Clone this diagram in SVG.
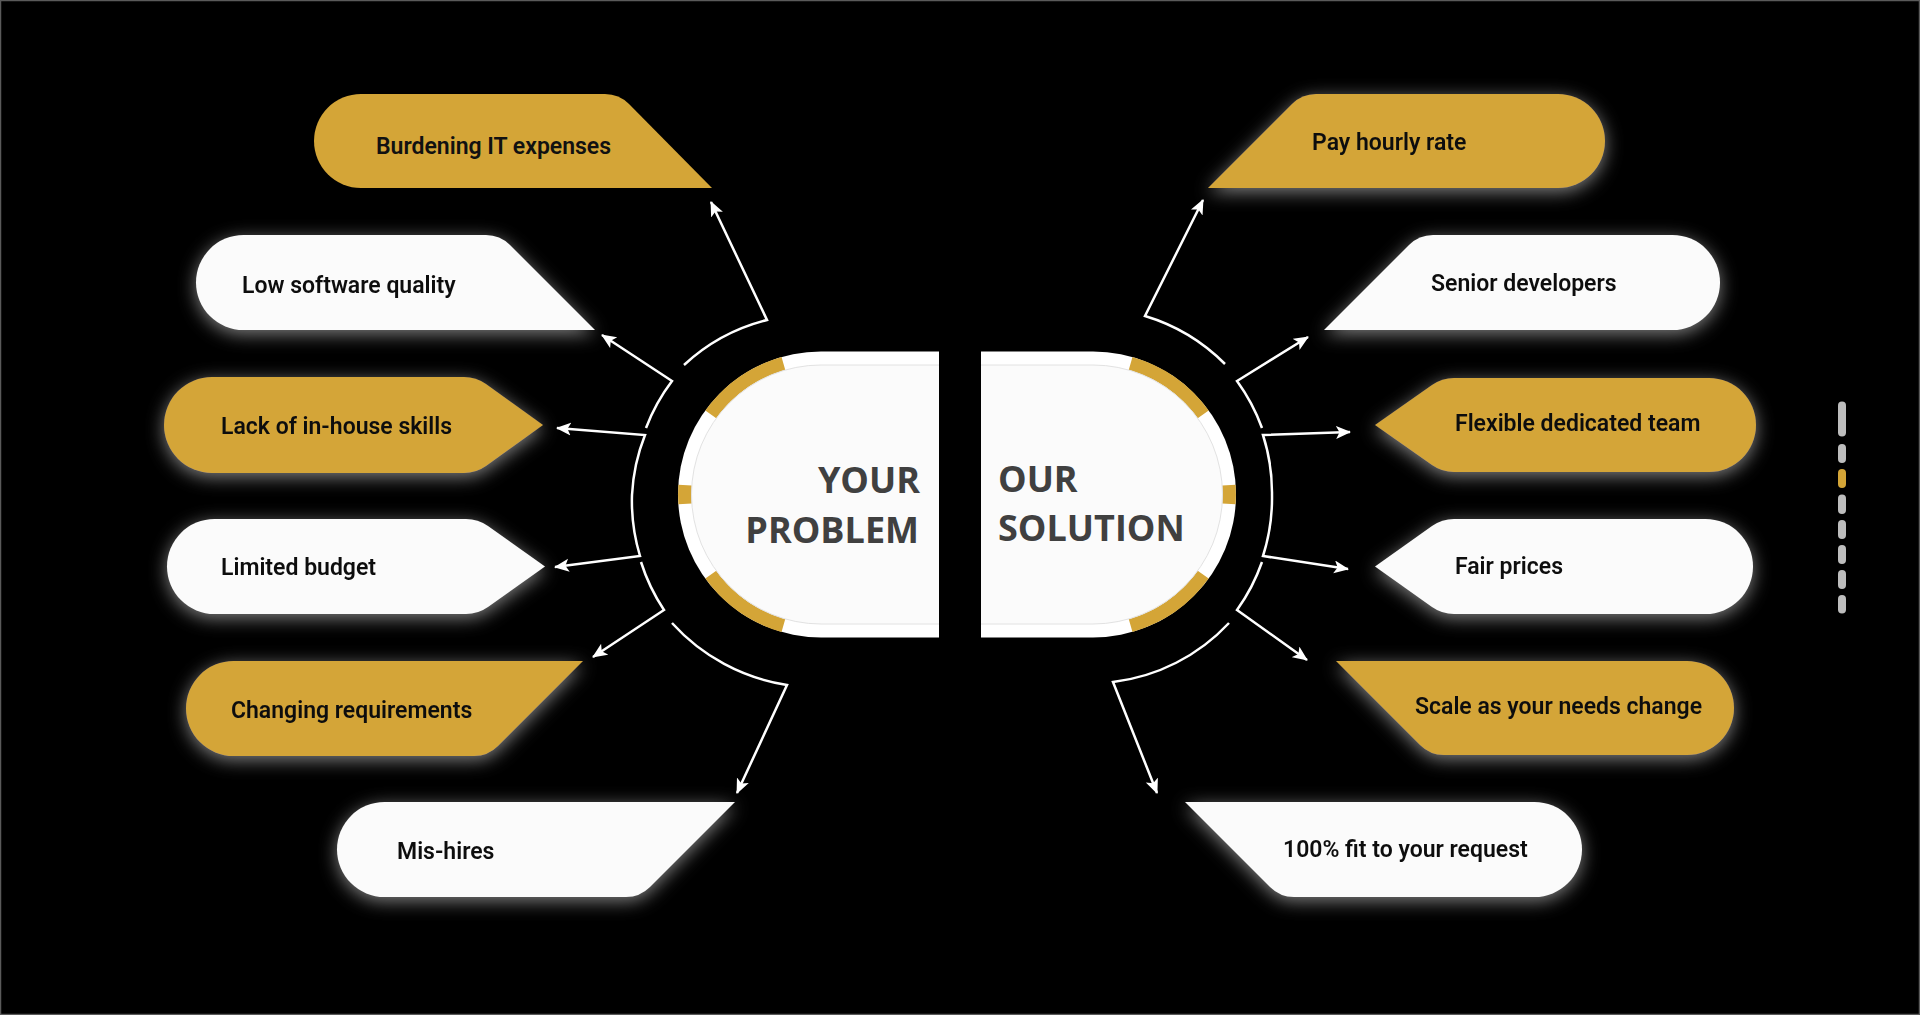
<svg xmlns="http://www.w3.org/2000/svg" width="1920" height="1015" viewBox="0 0 1920 1015">
  <defs>
    <style>
      .gold { fill: #d4a537; }
      .pale { fill: #fbfbfb; }
      .lbl { font-family: Roboto, "Liberation Sans", sans-serif; font-weight: 600; font-size: 23px; fill: #111111; }
      .big { font-family: "Open Sans", "Liberation Sans", sans-serif; font-weight: 700; font-size: 36px; fill: #404040; }
      .conn { fill: none; stroke: #ffffff; stroke-width: 2.5; marker-end: url(#arrow); }
      .band { fill: none; stroke: #d4a537; stroke-width: 13.5; }
      .dot { fill: #bdbdbd; }
    </style>
    <marker id="arrow" markerUnits="userSpaceOnUse" markerWidth="16" markerHeight="14" refX="14" refY="6.5" orient="auto">
      <path d="M0,0 L15,6.5 L0,13 L3.5,6.5 Z" fill="#ffffff"/>
    </marker>
    <filter id="glow" x="-20%" y="-50%" width="140%" height="200%">
      <feGaussianBlur in="SourceAlpha" stdDeviation="9"/>
      <feOffset dy="4" result="blur"/>
      <feFlood flood-color="#ffffff" flood-opacity="0.5"/>
      <feComposite in2="blur" operator="in"/>
      <feMerge>
        <feMergeNode/>
        <feMergeNode in="SourceGraphic"/>
      </feMerge>
    </filter>
  </defs>

  <!-- backdrop and frame -->
  <rect x="0" y="0" width="1920" height="1015" fill="#000000"/>
  <rect x="0.5" y="0.5" width="1919" height="1014" fill="none" stroke="#5a5a5a" stroke-width="1.5"/>

  <!-- centre pill, left half -->
  <g id="your-problem">
    <path d="M939 351.5 H821 A143 143 0 0 0 821 637.5 H939 Z" fill="#ffffff"/>
    <path class="band" d="M710.8 414.4 A136.25 136.25 0 0 1 783.4 363.5"/>
    <path class="band" d="M685.1 503.9 A136.25 136.25 0 0 1 685.1 485.1"/>
    <path class="band" d="M783.4 625.5 A136.25 136.25 0 0 1 710.8 574.6"/>
    <path class="pale" d="M939 365 H821 A129.5 129.5 0 0 0 821 624 H939 Z"/>
    <path d="M939 365 H821 A129.5 129.5 0 0 0 821 624 H939" fill="none" stroke="#e2e2e2" stroke-width="1"/>
    <text class="big" x="920" y="493" text-anchor="end">YOUR</text>
    <text class="big" x="919" y="543" text-anchor="end">PROBLEM</text>
  </g>

  <!-- centre pill, right half -->
  <g id="our-solution">
    <path d="M981 351.5 H1093 A143 143 0 0 1 1093 637.5 H981 Z" fill="#ffffff"/>
    <path class="band" d="M1130.6 363.5 A136.25 136.25 0 0 1 1203.2 414.4"/>
    <path class="band" d="M1228.9 485.1 A136.25 136.25 0 0 1 1228.9 503.9"/>
    <path class="band" d="M1203.2 574.6 A136.25 136.25 0 0 1 1130.6 625.5"/>
    <path class="pale" d="M981 365 H1093 A129.5 129.5 0 0 1 1093 624 H981 Z"/>
    <path d="M981 365 H1093 A129.5 129.5 0 0 1 1093 624 H981" fill="none" stroke="#e2e2e2" stroke-width="1"/>
    <text class="big" x="998" y="492">OUR</text>
    <text class="big" x="998" y="541">SOLUTION</text>
  </g>

  <!-- connectors: arc piece, kink, then a straight run to the arrowhead -->
  <g id="connectors">
    <path class="conn" d="M684 365 A189 189 0 0 1 767 320 L711 202"/>
    <path class="conn" d="M646 428 A189 189 0 0 1 672 381 L602 335"/>
    <path class="conn" d="M632 495 A189 189 0 0 1 645 435 L557 428"/>
    <path class="conn" d="M632 495 A189 189 0 0 0 640 556 L555 567"/>
    <path class="conn" d="M641 562 A189 189 0 0 0 664 610 L593 657"/>
    <path class="conn" d="M672 623 A195 195 0 0 0 787 685 L737 793"/>

    <path class="conn" d="M1225 364 A190 190 0 0 0 1145 316 L1203 200"/>
    <path class="conn" d="M1262 428 A190 190 0 0 0 1237 381 L1308 337"/>
    <path class="conn" d="M1272 495 A190 190 0 0 0 1263 435 L1350 432"/>
    <path class="conn" d="M1272 495 A190 190 0 0 1 1263 556 L1348 569"/>
    <path class="conn" d="M1262 562 A190 190 0 0 1 1237 610 L1307 660"/>
    <path class="conn" d="M1229 623 A190 190 0 0 1 1113 682 L1157 793"/>
  </g>

  <!-- problem side -->
  <g id="burdening-it-expenses">
    <path class="gold" d="M361 94 H605 Q619 94 629 104 L712 188 H361 A47 47 0 0 1 361 94 Z"/>
    <text class="lbl" x="376" y="154">Burdening IT expenses</text>
  </g>
  <g id="low-software-quality" filter="url(#glow)">
    <path class="pale" d="M243.5 235 H486 Q500 235 510 245 L595 330 H243.5 A47.5 47.5 0 0 1 243.5 235 Z"/>
    <text class="lbl" x="242" y="293">Low software quality</text>
  </g>
  <g id="lack-of-in-house-skills" filter="url(#glow)">
    <path class="gold" d="M212 377 H464 Q476 377 486 384 L543 425 L486 466 Q476 473 464 473 H212 A48 48 0 0 1 212 377 Z"/>
    <text class="lbl" x="221" y="434">Lack of in-house skills</text>
  </g>
  <g id="limited-budget" filter="url(#glow)">
    <path class="pale" d="M214.5 519 H466 Q478 519 488 526 L545 566.5 L488 607 Q478 614 466 614 H214.5 A47.5 47.5 0 0 1 214.5 519 Z"/>
    <text class="lbl" x="221" y="575">Limited budget</text>
  </g>
  <g id="changing-requirements" filter="url(#glow)">
    <path class="gold" d="M233.5 661 H583 L498 746 Q488 756 474 756 H233.5 A47.5 47.5 0 0 1 233.5 661 Z"/>
    <text class="lbl" x="231" y="718">Changing requirements</text>
  </g>
  <g id="mis-hires" filter="url(#glow)">
    <path class="pale" d="M384.5 802 H735 L650 887 Q640 897 626 897 H384.5 A47.5 47.5 0 0 1 384.5 802 Z"/>
    <text class="lbl" x="397" y="859">Mis-hires</text>
  </g>

  <!-- solution side -->
  <g id="pay-hourly-rate" filter="url(#glow)">
    <path class="gold" d="M1208 188 L1292 104 Q1302 94 1316 94 H1558 A47 47 0 0 1 1558 188 Z"/>
    <text class="lbl" x="1312" y="150">Pay hourly rate</text>
  </g>
  <g id="senior-developers" filter="url(#glow)">
    <path class="pale" d="M1324 330 L1409 245 Q1419 235 1433 235 H1672.5 A47.5 47.5 0 0 1 1672.5 330 Z"/>
    <text class="lbl" x="1431" y="291">Senior developers</text>
  </g>
  <g id="flexible-dedicated-team" filter="url(#glow)">
    <path class="gold" d="M1375 425 L1432 385 Q1442 378 1454 378 H1709 A47 47 0 0 1 1709 472 H1454 Q1442 472 1432 465 Z"/>
    <text class="lbl" x="1455" y="431">Flexible dedicated team</text>
  </g>
  <g id="fair-prices" filter="url(#glow)">
    <path class="pale" d="M1375 566.5 L1432 526 Q1442 519 1454 519 H1705.5 A47.5 47.5 0 0 1 1705.5 614 H1454 Q1442 614 1432 607 Z"/>
    <text class="lbl" x="1455" y="574">Fair prices</text>
  </g>
  <g id="scale-as-your-needs-change" filter="url(#glow)">
    <path class="gold" d="M1336 661 H1687 A47 47 0 0 1 1687 755 H1444 Q1430 755 1420 745 Z"/>
    <text class="lbl" x="1415" y="714">Scale as your needs change</text>
  </g>
  <g id="fit-to-your-request" filter="url(#glow)">
    <path class="pale" d="M1185 802 H1534.5 A47.5 47.5 0 0 1 1534.5 897 H1294 Q1280 897 1270 887 Z"/>
    <text class="lbl" x="1283" y="857">100% fit to your request</text>
  </g>

  <!-- page indicator -->
  <g id="pager">
    <rect class="dot" x="1838" y="401.5" width="8" height="35" rx="4"/>
    <rect class="dot" x="1838" y="444" width="8" height="19" rx="4"/>
    <rect class="gold" x="1838" y="469" width="8" height="19" rx="4"/>
    <rect class="dot" x="1838" y="494.5" width="8" height="19.5" rx="4"/>
    <rect class="dot" x="1838" y="520" width="8" height="19" rx="4"/>
    <rect class="dot" x="1838" y="545" width="8" height="19" rx="4"/>
    <rect class="dot" x="1838" y="570" width="8" height="19" rx="4"/>
    <rect class="dot" x="1838" y="595" width="8" height="18.5" rx="4"/>
  </g>
</svg>
